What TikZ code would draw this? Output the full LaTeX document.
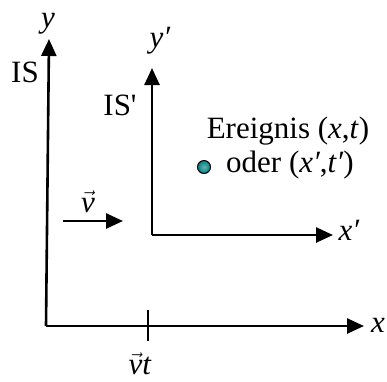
\documentclass[tikz,border=0pt]{standalone}
\usepackage{fontspec}
\setmainfont{Liberation Serif}
\usetikzlibrary{arrows.meta}
\definecolor{dotteal}{RGB}{0,128,128}
\newcommand{\vecv}{\ensuremath{\vec{\mbox{\itshape v}}}}
\begin{document}
\begin{tikzpicture}[x=1pt,y=-1pt,
  axis/.style={line width=2.6pt, -{Triangle[length=17pt,width=15pt]}},
  lbl/.style={inner sep=0pt, anchor=base, font=\fontsize{31}{36}\selectfont},
]
\useasboundingbox (0,0) rectangle (387,381);
% main frame IS
\coordinate (O) at (46,326);
\coordinate (Y) at (49,39);
\coordinate (X) at (364,326);
\draw[axis] (O) -- (Y);
\draw[axis] (O) -- (X);
% moving frame IS'
\coordinate (O2) at (152,235);
\coordinate (Y2) at (152,68);
\coordinate (X2) at (333,235);
\draw[axis] (O2) -- (Y2);
\draw[axis] (O2) -- (X2);
% tick at vt
\coordinate (T1) at (148,310);
\coordinate (T2) at (148,341);
\draw[line width=2.6pt] (T1) -- (T2);
% velocity arrow
\coordinate (V1) at (63,221);
\coordinate (V2) at (123,221);
\draw[axis] (V1) -- (V2);
% labels
\node[lbl] (ly) at (48,27) {\textit{y}};
\node[lbl] (lIS) at (25,82) {IS};
\node[lbl] (lyp) at (160,47) {\textit{y′}};
\node[lbl] (lISp) at (120,115) {IS\textquotesingle};
\node[lbl] (lx) at (378,332) {\textit{x}};
\node[lbl] (lxp) at (349,240) {\textit{x′}};
\node[lbl] (lvt) at (140,374) {\vecv\textit{t}};
\node[lbl] (lv) at (88,212) {\vecv};
\node[lbl] (ev1) at (288,138) {Ereignis (\textit{x},\textit{t})};
\node[lbl] (ev2) at (290,172) {oder (\textit{x′},\textit{t′})};
% event dot
\node[circle, draw=black, line width=1pt, inner color=dotteal!60!white, outer color=dotteal, minimum size=13pt, inner sep=0pt] (ev) at (204,167) {};
\end{tikzpicture}
\end{document}
